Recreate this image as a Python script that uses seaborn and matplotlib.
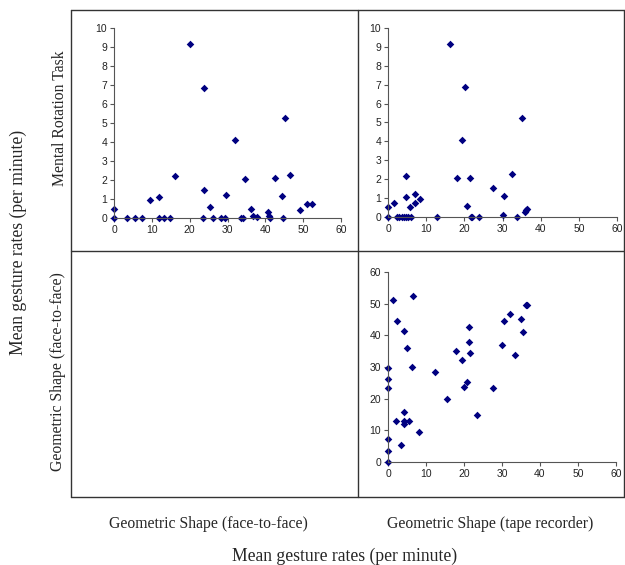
import numpy as np
import pandas as pd
import matplotlib
matplotlib.use('Agg')
import matplotlib.pyplot as plt
import seaborn as sns

# Mental rotation (y) vs geometric shape face-to-face (x)
ftf_x = [0, 0, 3.4, 5.5, 7.4, 9.5, 11.8, 12.0, 13.3, 14.8, 16.0, 20.0, 23.4, 23.9, 23.9,
         25.4, 26.1, 28.4, 29.3, 29.7, 32.0, 33.6, 34.2, 34.7, 36.2, 36.8, 37.7, 40.8,
         41.1, 41.3, 42.5, 44.5, 44.7, 45.1, 46.6, 49.2, 51.1, 52.3]
ftf_mr = [0.47, 0, 0, 0, 0, 0.95, 0, 1.09, 0, 0, 2.19, 9.16, 0, 6.86, 1.49,
          0.58, 0, 0, 0, 1.19, 4.09, 0, 0, 2.05, 0.47, 0.12, 0.05, 0.30,
          0.12, 0, 2.09, 1.18, 0, 5.26, 2.25, 0.40, 0.74, 0.74]

# Mental rotation (y) vs geometric shape tape recorder (x)
tape_x = [0, 0, 1.6, 2.3, 2.9, 3.6, 4.1, 4.6, 4.6, 4.8, 5.3, 5.7, 6.1, 7.1, 7.1, 8.5,
          12.8, 16.3, 18.0, 19.4, 20.1, 20.8, 21.4, 21.7, 22.1, 23.8, 27.6, 30.0, 30.3,
          32.4, 33.7, 35.2, 35.8, 36.2, 36.4]
tape_mr = [0.51, 0, 0.74, 0, 0, 0, 0, 0, 2.17, 1.06, 0, 0.51, 0, 1.22, 0.72, 0.97,
           0, 9.17, 2.05, 4.07, 6.88, 0.60, 2.05, 0, 0, 0, 1.52, 0.12, 1.13,
           2.28, 0, 5.26, 0.26, 0.37, 0.42]

# Geometric shape face-to-face (y) vs tape recorder (x)
gs_tape = [0, 0, 0, 0, 0, 0, 1.3, 2.0, 2.4, 3.4, 4.1, 4.1, 4.1, 4.3, 5.1, 5.6, 6.4, 6.7,
           8.1, 12.4, 15.6, 17.9, 19.4, 20.1, 20.7, 21.2, 21.3, 21.7, 23.5, 27.6, 30.0,
           30.4, 32.2, 33.4, 35.0, 35.6, 36.2, 36.7]
gs_ftf = [0, 3.4, 7.2, 23.3, 26.2, 29.7, 51.3, 13.1, 44.4, 5.3, 41.4, 15.7, 12.9, 11.9,
          36.1, 13.1, 30.0, 52.4, 9.5, 28.5, 19.9, 35.1, 32.1, 23.6, 25.3, 42.5, 37.9,
          34.3, 14.7, 23.5, 36.9, 44.5, 46.6, 33.8, 45.1, 41.0, 49.5, 49.5]

sns.set_style('white')
plt.rcParams['font.family'] = ['Liberation Serif', 'DejaVu Serif']

W, H = 625, 565
fig = plt.figure(figsize=(W / 100, H / 100), dpi=100)

# frame grid
frame = fig.add_axes([0, 0, 1, 1])
frame.set_xlim(0, W)
frame.set_ylim(H, 0)
frame.axis('off')
for x in [71, 358, 624]:
    frame.plot([x, x], [10, 497], color='#333333', lw=1)
for y in [10, 251, 497]:
    frame.plot([71, 624], [y, y], color='#333333', lw=1)


def panel(px0, px1, py0, py1):
    return fig.add_axes([px0 / W, (H - py1) / H, (px1 - px0) / W, (py1 - py0) / H])


def style(ax, ymax, ystep):
    ax.set_xlim(0, 60)
    ax.set_ylim(0, ymax)
    ax.set_xticks(np.arange(0, 61, 10))
    ax.set_yticks(np.arange(0, ymax + 0.1, ystep))
    ax.set_xlabel('')
    ax.set_ylabel('')
    sns.despine(ax=ax)
    for s in ['left', 'bottom']:
        ax.spines[s].set_color('#555555')
        ax.spines[s].set_linewidth(0.8)
    ax.tick_params(direction='out', length=3, width=0.8, color='#555555',
                   labelsize=7.5, pad=2, left=True, bottom=True, labelcolor='#222222')
    for lab in ax.get_xticklabels() + ax.get_yticklabels():
        lab.set_family('Liberation Sans')
    ax.patch.set_alpha(0)


mk = dict(marker='D', color='#000080', s=15, linewidth=0, clip_on=False)

ax1 = panel(114, 341, 28, 218)
sns.scatterplot(x=ftf_x, y=ftf_mr, ax=ax1, **mk)
style(ax1, 10, 1)

ax2 = panel(388, 617, 28, 217)
sns.scatterplot(x=tape_x, y=tape_mr, ax=ax2, **mk)
style(ax2, 10, 1)

ax3 = panel(388, 616, 272, 462)
sns.scatterplot(x=gs_tape, y=gs_ftf, ax=ax3, **mk)
style(ax3, 60, 10)

fig.text(60 / W, 1 - 118 / H, 'Mental Rotation Task', rotation=90,
         ha='center', va='center', fontsize=11.3)
fig.text(58 / W, 1 - 372 / H, 'Geometric Shape (face-to-face)', rotation=90,
         ha='center', va='center', fontsize=11.3)
fig.text(18 / W, 1 - 242 / H, 'Mean gesture rates (per minute)', rotation=90,
         ha='center', va='center', fontsize=12.7)
fig.text(208 / W, 1 - 524 / H, 'Geometric Shape (face-to-face)',
         ha='center', va='center', fontsize=11.3)
fig.text(490 / W, 1 - 524 / H, 'Geometric Shape (tape recorder)',
         ha='center', va='center', fontsize=11.3)
fig.text(345 / W, 1 - 556 / H, 'Mean gesture rates (per minute)',
         ha='center', va='center', fontsize=12.7)

fig.savefig('out.png', dpi=100)
